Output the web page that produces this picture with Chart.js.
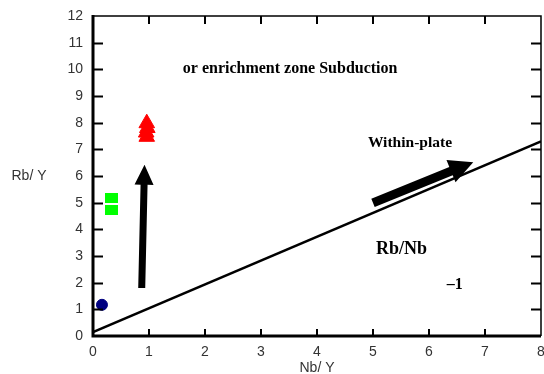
<!DOCTYPE html>
<html>
<head>
<meta charset="utf-8">
<script src="https://cdn.jsdelivr.net/npm/chart.js@4.4.0/dist/chart.umd.min.js"></script>
<style>
  html, body { margin: 0; padding: 0; background: #fff; overflow: hidden; }
  /* a bit wider than the window: the last x label's padding falls off the right edge */
  #wrap { width: 551px; height: 374px; position: relative; }
  canvas { display: block; }
</style>
</head>
<body>
<div id="wrap"><canvas id="chart"></canvas></div>
<script>
// axis ranges / ticks
const xRange = [0, 8];
const yRange = [0, 12];
const xTitle = "Nb/ Y";
const yTitle = "Rb/ Y";

// sample groups
const bluePoints = [{ x: 0.16, y: 1.17 }];
const greenPoints = [{ x: 0.33, y: 5.17 }, { x: 0.33, y: 4.73 }];
const redPoints = [
  { x: 0.96, y: 7.98 },
  { x: 0.97, y: 7.8 },
  { x: 0.95, y: 7.63 },
  { x: 0.96, y: 7.47 }
];

// reference line
const refLine = [{ x: 0, y: 0.15 }, { x: 8, y: 7.3 }];

// arrows (tail -> tip)
const arrowTails = [{ x: 0.87, y: 1.8 }, { x: 5.0, y: 4.99 }];
const arrowTips = [{ x: 0.92, y: 6.42 }, { x: 6.79, y: 6.52 }];

// annotation texts
const noteTexts = ["or enrichment zone Subduction", "Within-plate", "Rb/Nb", "–1"];
const notePos = [
  { x: 3.52, y: 10.01 },
  { x: 5.66, y: 7.24 },
  { x: 5.51, y: 3.26 },
  { x: 6.46, y: 1.91 }
];

const tickFont = { family: "'Liberation Sans', Arial, sans-serif", size: 14 };
const tickColor = "#333";

// lime square marker
const sq = document.createElement("canvas");
sq.width = 13;
sq.height = 10;
const sqCtx = sq.getContext("2d");
sqCtx.fillStyle = "#00ff00";
sqCtx.fillRect(0, 0, 13, 10);

const framePlugin = {
  id: "frame",
  afterDraw(chart) {
    const { ctx, chartArea: a, scales: { x, y } } = chart;
    ctx.save();
    ctx.strokeStyle = "#000";
    ctx.lineCap = "butt";

    // mirrored ticks
    ctx.lineWidth = 2;
    for (let v = yRange[0] + 1; v < yRange[1]; v++) {
      const py = Math.round(y.getPixelForValue(v)) + 0.5;
      ctx.beginPath();
      ctx.moveTo(a.left, py); ctx.lineTo(a.left + 10, py);
      ctx.moveTo(a.right, py); ctx.lineTo(a.right - 10, py);
      ctx.stroke();
    }
    for (let v = xRange[0] + 1; v < xRange[1]; v++) {
      const px = Math.round(x.getPixelForValue(v));
      ctx.beginPath();
      ctx.moveTo(px, a.bottom); ctx.lineTo(px, a.bottom - 7);
      ctx.moveTo(px, a.top); ctx.lineTo(px, a.top + 8);
      ctx.stroke();
    }

    // box
    ctx.lineWidth = 1.5;
    ctx.beginPath();
    ctx.moveTo(a.left, a.top); ctx.lineTo(a.right, a.top); ctx.lineTo(a.right, a.bottom);
    ctx.stroke();
    ctx.lineWidth = 3;
    ctx.beginPath();
    ctx.moveTo(a.left, a.top - 1); ctx.lineTo(a.left, a.bottom); ctx.lineTo(a.right, a.bottom);
    ctx.stroke();

    // arrows
    const shaftW = [7, 9];
    const headW = [19, 24];
    const headL = [20, 24];
    ctx.fillStyle = "#000";
    arrowTails.forEach((t, i) => {
      const x0 = x.getPixelForValue(t.x), y0 = y.getPixelForValue(t.y);
      const x1 = x.getPixelForValue(arrowTips[i].x), y1 = y.getPixelForValue(arrowTips[i].y);
      const len = Math.hypot(x1 - x0, y1 - y0);
      const ux = (x1 - x0) / len, uy = (y1 - y0) / len;
      const nx = -uy, ny = ux;
      const bx = x1 - ux * headL[i], by = y1 - uy * headL[i];
      const s = shaftW[i] / 2, h = headW[i] / 2;
      ctx.beginPath();
      ctx.moveTo(x0 + nx * s, y0 + ny * s);
      ctx.lineTo(bx + nx * s, by + ny * s);
      ctx.lineTo(bx + nx * h, by + ny * h);
      ctx.lineTo(x1, y1);
      ctx.lineTo(bx - nx * h, by - ny * h);
      ctx.lineTo(bx - nx * s, by - ny * s);
      ctx.lineTo(x0 - nx * s, y0 - ny * s);
      ctx.closePath();
      ctx.fill();
    });

    // notes
    const noteFonts = ["bold 16px", "bold 15.5px", "bold 18px", "bold 16px"];
    ctx.textAlign = "center";
    ctx.textBaseline = "middle";
    noteTexts.forEach((txt, i) => {
      ctx.font = noteFonts[i] + " 'Liberation Serif', 'Times New Roman', serif";
      ctx.fillText(txt, x.getPixelForValue(notePos[i].x), y.getPixelForValue(notePos[i].y));
    });

    // axis titles
    ctx.fillStyle = tickColor;
    ctx.font = "14px 'Liberation Sans', Arial, sans-serif";
    ctx.fillText(yTitle, 29, y.getPixelForValue(6));
    ctx.fillText(xTitle, (a.left + a.right) / 2, 368);
    ctx.restore();
  }
};

new Chart(document.getElementById("chart"), {
  type: "scatter",
  data: {
    datasets: [
      {
        type: "line",
        data: refLine,
        borderColor: "#000",
        borderWidth: 2.5,
        pointRadius: 0,
        fill: false
      },
      {
        data: bluePoints,
        pointStyle: "circle",
        radius: 5.5,
        backgroundColor: "#000080",
        borderColor: "#000080",
        borderWidth: 1
      },
      {
        data: greenPoints,
        pointStyle: sq,
        radius: 7
      },
      {
        data: redPoints,
        pointStyle: "triangle",
        radius: 9,
        backgroundColor: "#ff0000",
        borderColor: "#ff0000",
        borderWidth: 1
      }
    ]
  },
  options: {
    responsive: true,
    maintainAspectRatio: false,
    animation: false,
    layout: { padding: { top: 16, right: 0, left: 0, bottom: 0 } },
    plugins: { legend: { display: false }, tooltip: { enabled: false } },
    scales: {
      x: {
        type: "linear",
        min: xRange[0],
        max: xRange[1],
        ticks: { stepSize: 1, font: tickFont, color: tickColor, padding: 8, maxRotation: 0 },
        grid: { display: false, drawTicks: false },
        border: { display: false },
        afterFit(s) { s.height = 38; s.paddingLeft = 0; s.paddingRight = 0; }
      },
      y: {
        type: "linear",
        min: yRange[0],
        max: yRange[1],
        ticks: { stepSize: 1, font: tickFont, color: tickColor, padding: 10 },
        grid: { display: false, drawTicks: false },
        border: { display: false },
        afterFit(s) { s.width = 93; s.paddingTop = 0; s.paddingBottom = 0; }
      }
    }
  },
  plugins: [framePlugin]
});
</script>
</body>
</html>
